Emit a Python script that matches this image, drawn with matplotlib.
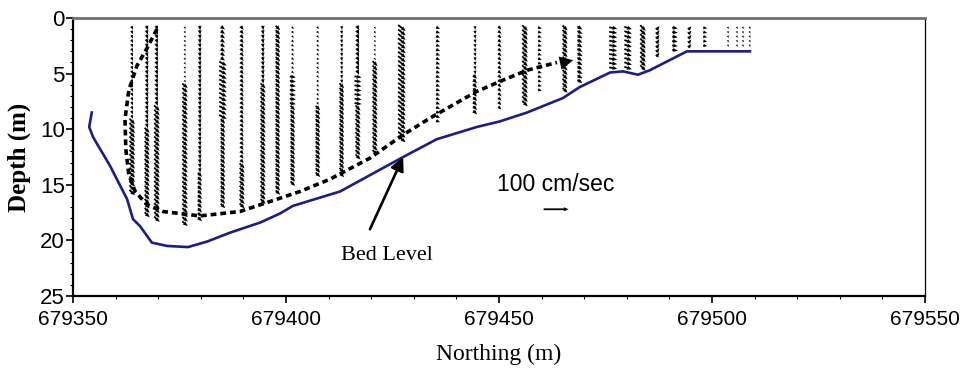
import numpy as np
import matplotlib
matplotlib.use("Agg")
import matplotlib.pyplot as plt

# ---------------------------------------------------------------
# Cross-section data
# ---------------------------------------------------------------
# Bed profile (northing in m, depth in m)
bed_northing = [679354.4, 679353.8, 679354.7, 679358.7, 679362.7, 679364.1,
                679365.7, 679368.5, 679372.1, 679377.0, 679381.5, 679386.9,
                679393.9, 679398.5, 679401.6, 679412.7, 679427.5, 679435.4,
                679444.8, 679450.2, 679456.6, 679465.0, 679469.0, 679476.1,
                679479.1, 679482.6, 679485.4, 679494.1, 679508.9]
bed_depth = [8.5, 9.8, 10.7, 13.3, 16.3, 18.1,
             18.7, 20.2, 20.5, 20.6, 20.1, 19.3,
             18.4, 17.6, 16.9, 15.6, 12.5, 10.9,
             9.8, 9.3, 8.5, 7.2, 6.2, 4.9,
             4.8, 5.1, 4.7, 3.0, 3.0]

# ADCP ensembles: northing of each profile and the deepest valid bin
col_northing = [679363.9, 679367.4, 679369.7, 679376.3, 679379.8, 679385.2,
                679389.7, 679394.6, 679398.1, 679401.6, 679407.5, 679413.1,
                679416.9, 679420.9, 679427.2, 679435.7, 679444.4, 679450.2,
                679456.1, 679459.6, 679465.5, 679469.0, 679476.8, 679480.3,
                679483.8, 679487.3, 679491.3, 679494.8, 679498.4, 679503.8,
                679505.9, 679507.3, 679508.9]
col_bottom = [15.8, 18.0, 18.2, 18.7, 18.1, 17.2,
              17.2, 16.6, 16.0, 15.1, 14.2, 14.2,
              12.7, 12.4, 10.9, 9.6, 8.7, 8.4,
              7.8, 6.7, 6.6, 5.7, 4.5, 4.5,
              4.5, 3.6, 3.0, 2.6, 2.6, 2.7,
              2.7, 2.7, 2.7]
first_bin_depth = 0.9
bin_size = 0.4

# Velocity bands per ensemble: (lower depth of band, u cm/s, w cm/s)
col_bands = [
    [(9.0, 6, -14), (15.8, 22, -22)],
    [(10.0, 5, -18), (18.0, 20, -20)],
    [(8.0, 6, -18), (18.2, 22, -22)],
    [(6.0, 5, -9), (18.7, 22, -18)],
    [(14.0, 3, -18), (18.1, 16, -16)],
    [(4.0, 16, -12), (9.0, 30, -16), (17.2, 18, -18)],
    [(13.0, 12, -14), (17.2, 20, -20)],
    [(6.0, 3, -18), (16.6, 20, -20)],
    [(16.0, 18, -18)],
    [(5.0, 8, -9), (8.0, 24, -4), (15.1, 18, -18)],
    [(8.0, 7, -9), (14.2, 18, -18)],
    [(6.0, 2, -15), (14.2, 18, -20)],
    [(5.0, 9, -18), (8.0, 28, -4), (12.7, 20, -20)],
    [(4.0, 6, -8), (12.4, 20, -20)],
    [(10.9, 30, -24)],
    [(9.6, 16, -6)],
    [(5.0, 2, -15), (8.7, 15, -15)],
    [(8.4, 12, -12)],
    [(7.8, 22, -22)],
    [(6.7, 15, -5)],
    [(6.6, 20, -20)],
    [(5.7, 20, -12)],
    [(4.5, 32, -5)],
    [(4.5, 30, -10)],
    [(4.5, 22, -22)],
    [(3.6, 12, 16)],
    [(3.0, 22, -3)],
    [(2.6, 12, 14)],
    [(2.6, 16, -3)],
    [(2.7, 4, -9)],
    [(2.7, 4, -9)],
    [(2.7, 4, -9)],
    [(2.7, 4, -9)],
]

# Main circulation path (dashed arrow)
flow_northing = [679369.7, 679367.4, 679365.0, 679363.1, 679362.2, 679362.4,
                 679363.1, 679364.6, 679367.4, 679371.1, 679379.8, 679389.2,
                 679395.5, 679403.3, 679410.3, 679419.7, 679427.5, 679433.8,
                 679444.8, 679450.9, 679456.6, 679463.6, 679467.4]
flow_depth = [1.0, 2.7, 4.3, 6.5, 9.1, 11.8,
              14.1, 15.6, 16.8, 17.4, 17.8, 17.4,
              16.6, 15.6, 14.5, 12.6, 10.5, 9.0,
              6.6, 5.6, 4.7, 4.0, 3.8]

ref_speed = 100  # cm/s

# ---------------------------------------------------------------
# Expand ensembles into bins
# ---------------------------------------------------------------
xs, ys, us, ws = [], [], [], []
for xn, bottom, bands in zip(col_northing, col_bottom, col_bands):
    depths = np.arange(first_bin_depth, bottom + 1e-6, bin_size)
    for d in depths:
        for lower, u, w in bands:
            if d <= lower + 1e-6:
                xs.append(xn); ys.append(d); us.append(u); ws.append(w)
                break

# ---------------------------------------------------------------
# Figure
# ---------------------------------------------------------------
sans = ['Liberation Sans', 'DejaVu Sans']
serif = ['Liberation Serif', 'DejaVu Serif']

fig = plt.figure(figsize=(9.67, 3.81), dpi=100)
ax = fig.add_axes([0.0755, 0.2231, 0.8811, 0.7297])

q = ax.quiver(xs, ys, us, ws, angles='uv', scale_units='inches', scale=400,
              width=0.0021, headwidth=2.4, headlength=2.8, headaxislength=2.4,
              minlength=0.5, color='black', pivot='middle', zorder=3)

ax.plot(bed_northing, bed_depth, color='#1c1c8a', lw=1.9, zorder=4,
        solid_joinstyle='round')

# Dashed circulation path with arrow head
ax.plot(flow_northing[:-1], flow_depth[:-1], color='black', lw=2.6,
        ls=(0, (1.6, 1.1)), zorder=5)
ax.annotate('', xy=(flow_northing[-1], flow_depth[-1]),
            xytext=(flow_northing[-3], flow_depth[-3]),
            arrowprops=dict(arrowstyle='-|>', color='black', lw=0,
                            mutation_scale=24, shrinkA=0, shrinkB=0),
            zorder=6)

# Bed level pointer
ax.annotate('', xy=(679427.5, 12.5), xytext=(679419.7, 19.0),
            arrowprops=dict(arrowstyle='-|>', color='black', lw=1.9,
                            mutation_scale=20, shrinkA=0, shrinkB=0),
            zorder=6)
ax.text(679423.7, 21.4, 'Bed Level', family=serif, fontsize=16,
        ha='center', va='center')

# Velocity scale key
ax.quiverkey(q, 679463.4, 17.2, ref_speed, '100 cm/sec', coordinates='data',
             labelpos='N', labelsep=0.13,
             fontproperties={'family': sans, 'size': 16.5})

ax.set_xlim(679350, 679550)
ax.set_ylim(25, 0)
ax.set_xticks([679350, 679400, 679450, 679500, 679550])
ax.set_yticks([0, 5, 10, 15, 20, 25])
ax.set_xticks(np.arange(679350, 679551, 10), minor=True)
ax.set_yticks(np.arange(0, 26, 1), minor=True)
ax.xaxis.set_major_formatter(plt.FuncFormatter(lambda v, p: f'{v:.0f}'))

ax.tick_params(which='major', direction='out', length=5, width=1.2, pad=1)
ax.tick_params(which='minor', direction='out', length=2.5, width=0.8)
ax.tick_params(axis='x', which='major', labelsize=15, pad=5)
ax.tick_params(axis='y', which='major', labelsize=16)
for lab in ax.get_xticklabels() + ax.get_yticklabels():
    lab.set_family(sans)

ax.set_xlabel('Northing (m)', family=serif, fontsize=17, labelpad=11)
ax.set_ylabel('Depth (m)', family=serif, fontsize=18, fontweight='bold',
              labelpad=6)

for side in ['left', 'bottom']:
    ax.spines[side].set_linewidth(1.6)
ax.spines['right'].set_linewidth(0.9)
ax.spines['top'].set_linewidth(2.0)
ax.spines['top'].set_color('#707070')

fig.savefig('out.png', dpi=100)
